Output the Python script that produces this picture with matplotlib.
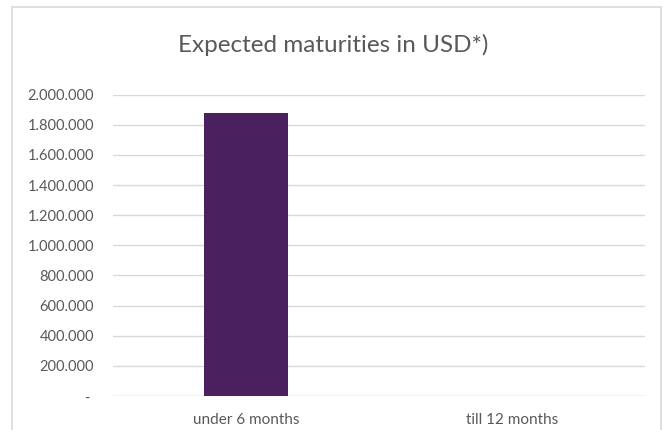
import matplotlib
matplotlib.use("Agg")
import matplotlib.pyplot as plt
from matplotlib.patches import Rectangle
from matplotlib.ticker import FuncFormatter

categorias = ["under 6 months", "till 12 months"]
valores = [1880000, 0]
ticks_y = [0, 200000, 400000, 600000, 800000, 1000000, 1200000,
           1400000, 1600000, 1800000, 2000000]

ROXO, CINZA_TXT, CINZA_GRADE = "#4a205f", "#595959", "#d9d9d9"
FONTE = ["Lato", "DejaVu Sans"]


def fmt_milhar(v, pos=None):
    if v == 0:
        return "- "
    return f"{int(v):,}".replace(",", ".")


fig = plt.figure(figsize=(6.66, 4.30), dpi=100)
# moldura do grafico (estilo Excel), corta na borda inferior
fig.patches.append(Rectangle((12 / 666, -0.05), 649 / 666, 1.05 - 7 / 430,
                             transform=fig.transFigure, fill=False,
                             ec=CINZA_GRADE, lw=1.2))

ax = fig.add_axes([113 / 666, 1 - 396 / 430, 532 / 666, 301.3 / 430])
x = range(len(categorias))
ax.bar(list(x), valores, width=0.313, color=ROXO, zorder=3)
ax.set_xlim(-0.5, len(categorias) - 0.5)
ax.set_ylim(0, 2000000)
ax.set_yticks(ticks_y)
ax.yaxis.set_major_formatter(FuncFormatter(fmt_milhar))
ax.set_xticks(list(x))
ax.set_xticklabels(categorias)
ax.grid(True, axis="y", color=CINZA_GRADE, lw=1, zorder=0)
for s in ax.spines.values():
    s.set_visible(False)
ax.axhline(0, color=CINZA_GRADE, lw=1, zorder=1)
ax.tick_params(length=0, colors=CINZA_TXT)
ax.tick_params(axis="y", pad=13.5, labelsize=10.5)
ax.tick_params(axis="x", pad=12, labelsize=11)
for t in ax.get_xticklabels() + ax.get_yticklabels():
    t.set_family(FONTE)

fig.text(0.5, 1 - 45 / 430, "Expected maturities in USD*)", ha="center",
         va="center", fontsize=17.5, color=CINZA_TXT, family=FONTE)

fig.savefig("out.png", dpi=100)
